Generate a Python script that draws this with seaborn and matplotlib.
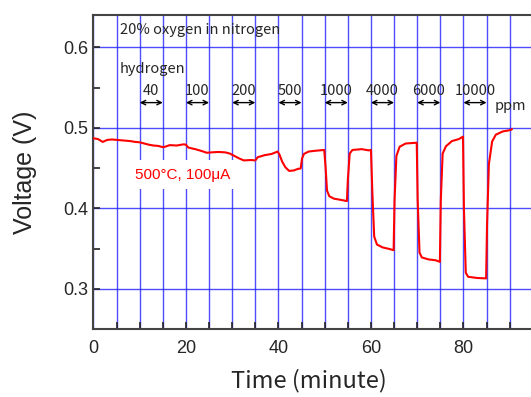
import matplotlib
matplotlib.use("Agg")
import matplotlib.pyplot as plt
import seaborn as sns
import numpy as np
import pandas as pd
from matplotlib.ticker import MultipleLocator, FixedLocator

# sensor trace (minutes, volts)
time_min = [0.0, 1.0, 2.0, 3.0, 4.0, 5.0, 6.0, 7.0, 8.0, 9.0, 10.0, 11.0, 12.0,
            13.0, 14.0, 15.0, 15.5, 16.5, 18.0, 19.5, 20.0, 20.5, 22.0, 23.5,
            24.5, 25.5, 27.0, 28.5, 29.5, 30.5, 31.5, 32.5, 34.0, 35.0, 35.5,
            37.0, 38.5, 39.8, 40.2, 40.8, 41.5, 42.3, 43.3, 44.2, 44.8, 45.1,
            45.5, 46.5, 48.0, 49.9, 50.2, 50.5, 51.0, 52.0, 53.5, 54.8, 55.0,
            55.4, 56.0, 58.0, 59.5, 60.0, 60.3, 60.7, 61.3, 62.5, 64.0, 64.9,
            65.1, 65.5, 66.2, 67.5, 69.9, 70.1, 70.5, 71.0, 72.5, 74.0, 74.9,
            75.1, 75.5, 76.2, 77.5, 79.0, 79.9, 80.1, 80.5, 81.0, 83.0, 84.9,
            85.1, 85.5, 86.2, 87.0, 88.5, 89.5, 90.3, 90.5]
voltage = [0.487, 0.486, 0.4825, 0.485, 0.4855, 0.485, 0.4845, 0.484, 0.4835,
           0.4825, 0.482, 0.4805, 0.479, 0.478, 0.4775, 0.476, 0.4765, 0.4785,
           0.478, 0.4795, 0.479, 0.4755, 0.4735, 0.471, 0.469, 0.4695, 0.470,
           0.4695, 0.468, 0.465, 0.462, 0.4595, 0.460, 0.4595, 0.4635, 0.466,
           0.4675, 0.4705, 0.467, 0.458, 0.451, 0.4465, 0.447, 0.449, 0.4495,
           0.462, 0.4675, 0.4705, 0.4715, 0.4725, 0.450, 0.422, 0.415, 0.412,
           0.4105, 0.409, 0.435, 0.468, 0.4725, 0.4735, 0.472, 0.4725, 0.420,
           0.365, 0.355, 0.3515, 0.3495, 0.348, 0.410, 0.465, 0.4765, 0.4805,
           0.4815, 0.410, 0.345, 0.339, 0.3365, 0.3355, 0.3335, 0.410, 0.468,
           0.477, 0.4835, 0.486, 0.489, 0.400, 0.320, 0.315, 0.3135, 0.313,
           0.380, 0.455, 0.483, 0.4915, 0.4955, 0.4965, 0.4975, 0.4985]

# hydrogen exposure windows and concentrations
h2_start = [10, 20, 30, 40, 50, 60, 70, 80]
h2_end = [15, 25, 35, 45, 55, 65, 75, 85]
h2_ppm = ["40", "100", "200", "500", "1000", "4000", "6000", "10000"]

x_ticks = [0, 20, 40, 60, 80]

df = pd.DataFrame({"time": time_min, "voltage": voltage})

sns.set_style("ticks")
plt.rcParams["font.family"] = ["Liberation Sans", "DejaVu Sans"]

fig = plt.figure(figsize=(5.31, 3.97), dpi=100)
# the plot runs past the right edge of the image, as in the original
ax = fig.add_axes([0.176, 0.171, 0.871, 0.791])

sns.lineplot(data=df, x="time", y="voltage", color="#ff0000", linewidth=1.5,
             estimator=None, ax=ax, zorder=4)

ax.set_xlim(0, 100)
ax.set_ylim(0.25, 0.64)
ax.xaxis.set_major_locator(FixedLocator(x_ticks))
ax.xaxis.set_minor_locator(MultipleLocator(5))
ax.yaxis.set_major_locator(MultipleLocator(0.1))
ax.yaxis.set_minor_locator(MultipleLocator(0.05))

ax.set_axisbelow(True)
ax.xaxis.grid(True, which="both", color="#2020ff", linewidth=1.0, alpha=0.8)
ax.yaxis.grid(True, which="major", color="#2020ff", linewidth=1.0, alpha=0.8)

ax.tick_params(which="both", direction="in", length=5, width=1.2,
               color="#222222", labelsize=13)
ax.tick_params(axis="x", pad=8)
for side in ["left", "top", "bottom", "right"]:
    ax.spines[side].set_color("#444444")
    ax.spines[side].set_linewidth(1.5)

ax.set_xlabel("Time (minute)", fontsize=17, family=["Noto Sans CJK JP", "DejaVu Sans"])
ax.xaxis.set_label_coords(0.466, -0.125)
ax.set_ylabel("Voltage (V)", fontsize=18)
ax.yaxis.set_label_coords(-0.122, 0.5)

note_font = ["Noto Sans CJK JP", "DejaVu Sans"]
ax.text(5.7, 0.621, "20% oxygen in nitrogen", fontsize=10.5, family=note_font,
        va="center", ha="left")
ax.text(5.7, 0.5727, "hydrogen", fontsize=10.5, family=note_font,
        va="center", ha="left")
for s, e, lab in zip(h2_start, h2_end, h2_ppm):
    ax.text((s + e) / 2, 0.5456, lab, fontsize=10.5, family=note_font,
            ha="center", va="center")
    ax.annotate("", xy=(s, 0.5313), xytext=(e, 0.5313),
                arrowprops=dict(arrowstyle="<->", color="black", lw=1.0,
                                mutation_scale=8, shrinkA=0, shrinkB=0))
ax.text(86.8, 0.527, "ppm", fontsize=10.5, family=note_font, ha="left", va="center")

ax.text(9.0, 0.4416, "500°C, 100μA", fontsize=11, color="#ff0000",
        ha="left", va="center",
        bbox=dict(boxstyle="square,pad=0.5", fc="white", ec="none"))

fig.savefig("out.png", dpi=100)
